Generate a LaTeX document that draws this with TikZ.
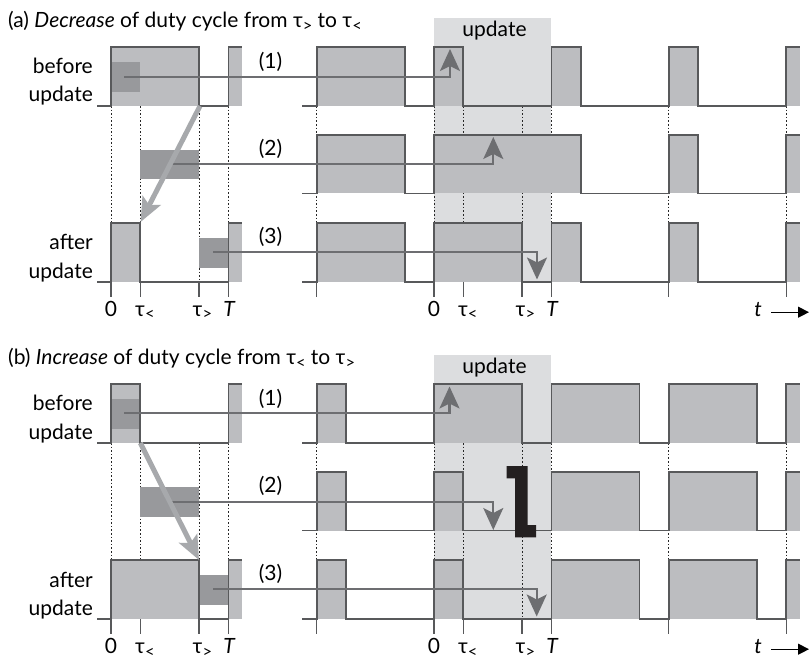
\documentclass[tikz,border=0pt]{standalone}
\usepackage{fontspec}
\setmainfont{Lato}
\usetikzlibrary{arrows.meta}
\definecolor{sigfillc}{HTML}{BCBDC0}
\definecolor{updc}{HTML}{DCDDDF}
\definecolor{darkc}{HTML}{98999C}
\definecolor{linec}{HTML}{58595B}
\definecolor{arrc}{HTML}{6D6E71}
\definecolor{diagc}{HTML}{A7A9AC}
\definecolor{glyphc}{HTML}{231F20}
\tikzset{
  sig/.style={draw=linec, line width=1.8pt},
  dotl/.style={draw=black!85, line width=0.9pt, dash pattern=on 1.6pt off 2pt},
  tickl/.style={draw=linec, line width=1.2pt},
  arr/.style={draw=arrc, line width=2.2pt, -{Stealth[length=22pt,width=20pt,inset=5pt]}},
  diag/.style={draw=diagc, line width=5pt, -{Stealth[length=24pt,width=20pt,inset=5pt]}},
  txt/.style={inner sep=0pt, font=\fontsize{21}{25}\selectfont},
}
\newcommand\sub[1]{\raisebox{-3.5pt}{\fontsize{16.5}{16}\selectfont #1}}
% #1 start, #2 clip start, #3 clip end, #4 top, #5 base, #6 list of high intervals
\newcommand\sigF[6]{%
  \foreach \xa/\xb in {#6} {\fill[sigfillc] (\xa,#4) rectangle (\xb,#5);}
  \fill[sigfillc] (#2,#4) rectangle (#3,#5);
}
\newcommand\sigL[6]{%
  \draw[sig] (#1,#5) \foreach \xa/\xb in {#6} { -- (\xa,#5) -- (\xa,#4) -- (\xb,#4) -- (\xb,#5) } -- (#2,#5) -- (#2,#4) -- (#3,#4);
}
% dotted lines and ticks for one panel
\newcommand\grid{%
  \foreach \xx in {111,140.35,199.05,228.4,316.6,434,463.35,522.05,551.4,668.8,786.2} {
    \draw[dotl] (\xx,106) -- (\xx,282);
  }
}
\newcommand\ticks{%
  \foreach \xx in {111,140.35,199.05,228.4,316.6,434,463.35,522.05,551.4,668.8,786.2} {
    \draw[tickl] (\xx,282) -- (\xx,297);
  }
}
\newcommand\axislabels[1]{%
  \node[txt, anchor=base] (#1x0) at (111,316.5) {0};
  \node[txt, anchor=base west] (#1xs) at (135,316.5) {τ\sub{<}};
  \node[txt, anchor=base west] (#1xb) at (192.5,316.5) {τ\sub{>}};
  \node[txt, anchor=base] (#1xT) at (229.5,316.5) {\textit{T}};
  \node[txt, anchor=base] (#1m0) at (434,316.5) {0};
  \node[txt, anchor=base west] (#1ms) at (457.8,316.5) {τ\sub{<}};
  \node[txt, anchor=base west] (#1mb) at (515.5,316.5) {τ\sub{>}};
  \node[txt, anchor=base] (#1mT) at (552.5,316.5) {\textit{T}};
  \node[txt, anchor=base] (#1t) at (758,316.5) {\textit{t}};
  \coordinate (#1ta) at (771,312.2);
  \coordinate (#1tb) at (809,312.2);
  \draw[black, line width=1.2pt, -{Triangle[length=11pt,width=11pt]}] (#1ta) -- (#1tb);
  \node[txt, anchor=base east] (#1bef) at (93,73.5) {before};
  \node[txt, anchor=base east] (#1upa) at (93,102) {update};
  \node[txt, anchor=base east] (#1aft) at (93,250) {after};
  \node[txt, anchor=base east] (#1upb) at (93,278.5) {update};
  \node[txt, anchor=base] (#1l1) at (270.5,68.5) {(1)};
  \node[txt, anchor=base] (#1l2) at (270.5,155.5) {(2)};
  \node[txt, anchor=base] (#1l3) at (270.5,243.5) {(3)};
  \node[txt, anchor=base] (#1hd) at (494.5,36.5) {update};
}
\begin{document}
\begin{tikzpicture}[x=1pt, y=-1pt]
\useasboundingbox (0,0) rectangle (809,660);
\fill[white] (0,0) rectangle (809,660);

%================ panel (a) ================
\fill[updc] (434,18.3) rectangle (551.4,282);
\grid
% fills
\sigF{97}{228.4}{242.3}{46.7}{106}{111/199.05}
\sigF{302}{786.2}{800}{46.7}{106}{316.6/404.65,434/463.35,551.4/580.75,668.8/698.15}
\sigF{302}{786.2}{800}{135}{193.5}{316.6/404.65,434/580.75,668.8/698.15}
\sigF{97}{228.4}{242.3}{223}{282}{111/140.35}
\sigF{302}{786.2}{800}{223}{282}{316.6/404.65,434/522.05,551.4/580.75,668.8/698.15}
% dark boxes
\fill[darkc] (111,62.3) rectangle (140.35,91.7);
\fill[darkc] (140.35,150) rectangle (199.05,179);
\fill[darkc] (199.05,238) rectangle (228.4,268);
% outlines
\sigL{97}{228.4}{242.3}{46.7}{106}{111/199.05}
\sigL{302}{786.2}{800}{46.7}{106}{316.6/404.65,434/463.35,551.4/580.75,668.8/698.15}
\sigL{302}{786.2}{800}{135}{193.5}{316.6/404.65,434/580.75,668.8/698.15}
\sigL{97}{228.4}{242.3}{223}{282}{111/140.35}
\sigL{302}{786.2}{800}{223}{282}{316.6/404.65,434/522.05,551.4/580.75,668.8/698.15}
\ticks
% arrows
\coordinate (a1s) at (124.3,77); \coordinate (a1c) at (450,77); \coordinate (a1e) at (450,49);
\coordinate (a2s) at (168,164); \coordinate (a2c) at (493.3,164); \coordinate (a2e) at (493.3,137);
\coordinate (a3s) at (213,252); \coordinate (a3c) at (537,252); \coordinate (a3e) at (537,279.5);
\draw[arr] (a1s) -- (a1c) -- (a1e);
\draw[arr] (a2s) -- (a2c) -- (a2e);
\draw[arr] (a3s) -- (a3c) -- (a3e);
\coordinate (ads) at (200,106); \coordinate (ade) at (140.6,222);
\draw[diag] (ads) -- (ade);
\axislabels{a}
\node[txt, anchor=base west] (atitle) at (8,28) {(a) \textit{Decrease} of duty cycle from τ\sub{>} to τ\sub{<}};

%================ panel (b) ================
\begin{scope}[shift={(0,337)}]
\fill[updc] (434,18.3) rectangle (551.4,282);
\grid
\sigF{97}{228.4}{242.3}{46.7}{106}{111/140.35}
\sigF{302}{786.2}{800}{46.7}{106}{316.6/345.95,434/522.05,551.4/639.45,668.8/756.85}
\sigF{302}{786.2}{800}{135}{193.5}{316.6/345.95,434/463.35,551.4/639.45,668.8/756.85}
\sigF{97}{228.4}{242.3}{223}{282}{111/199.05}
\sigF{302}{786.2}{800}{223}{282}{316.6/345.95,434/463.35,551.4/639.45,668.8/756.85}
\fill[darkc] (111,62.3) rectangle (140.35,91.7);
\fill[darkc] (140.35,150) rectangle (199.05,179.5);
\fill[darkc] (199.05,238) rectangle (228.4,268);
\sigL{97}{228.4}{242.3}{46.7}{106}{111/140.35}
\sigL{302}{786.2}{800}{46.7}{106}{316.6/345.95,434/522.05,551.4/639.45,668.8/756.85}
\sigL{302}{786.2}{800}{135}{193.5}{316.6/345.95,434/463.35,551.4/639.45,668.8/756.85}
\sigL{97}{228.4}{242.3}{223}{282}{111/199.05}
\sigL{302}{786.2}{800}{223}{282}{316.6/345.95,434/463.35,551.4/639.45,668.8/756.85}
\ticks
\coordinate (b1s) at (124.3,76.3); \coordinate (b1c) at (449.5,76.3); \coordinate (b1e) at (449.5,49.5);
\coordinate (b2s) at (168,164.7); \coordinate (b2c) at (493.3,164.7); \coordinate (b2e) at (493.3,193);
\coordinate (b3s) at (213,252); \coordinate (b3c) at (536.7,252); \coordinate (b3e) at (536.7,279.5);
\draw[arr] (b1s) -- (b1c) -- (b1e);
\draw[arr] (b2s) -- (b2c) -- (b2e);
\draw[arr] (b3s) -- (b3c) -- (b3e);
\coordinate (bds) at (140.35,106); \coordinate (bde) at (199,223);
\draw[diag] (bds) -- (bde);
% glitch mark
\fill[glyphc] (506.7,129) -- (527.7,129) -- (527.7,188) -- (536,188) -- (536,200.3) -- (515,200.3) -- (515,141.3) -- (506.7,141.3) -- cycle;
\axislabels{b}
\node[txt, anchor=base west] (btitle) at (8,28) {(b) \textit{Increase} of duty cycle from τ\sub{<} to τ\sub{>}};
\end{scope}
\end{tikzpicture}
\end{document}
